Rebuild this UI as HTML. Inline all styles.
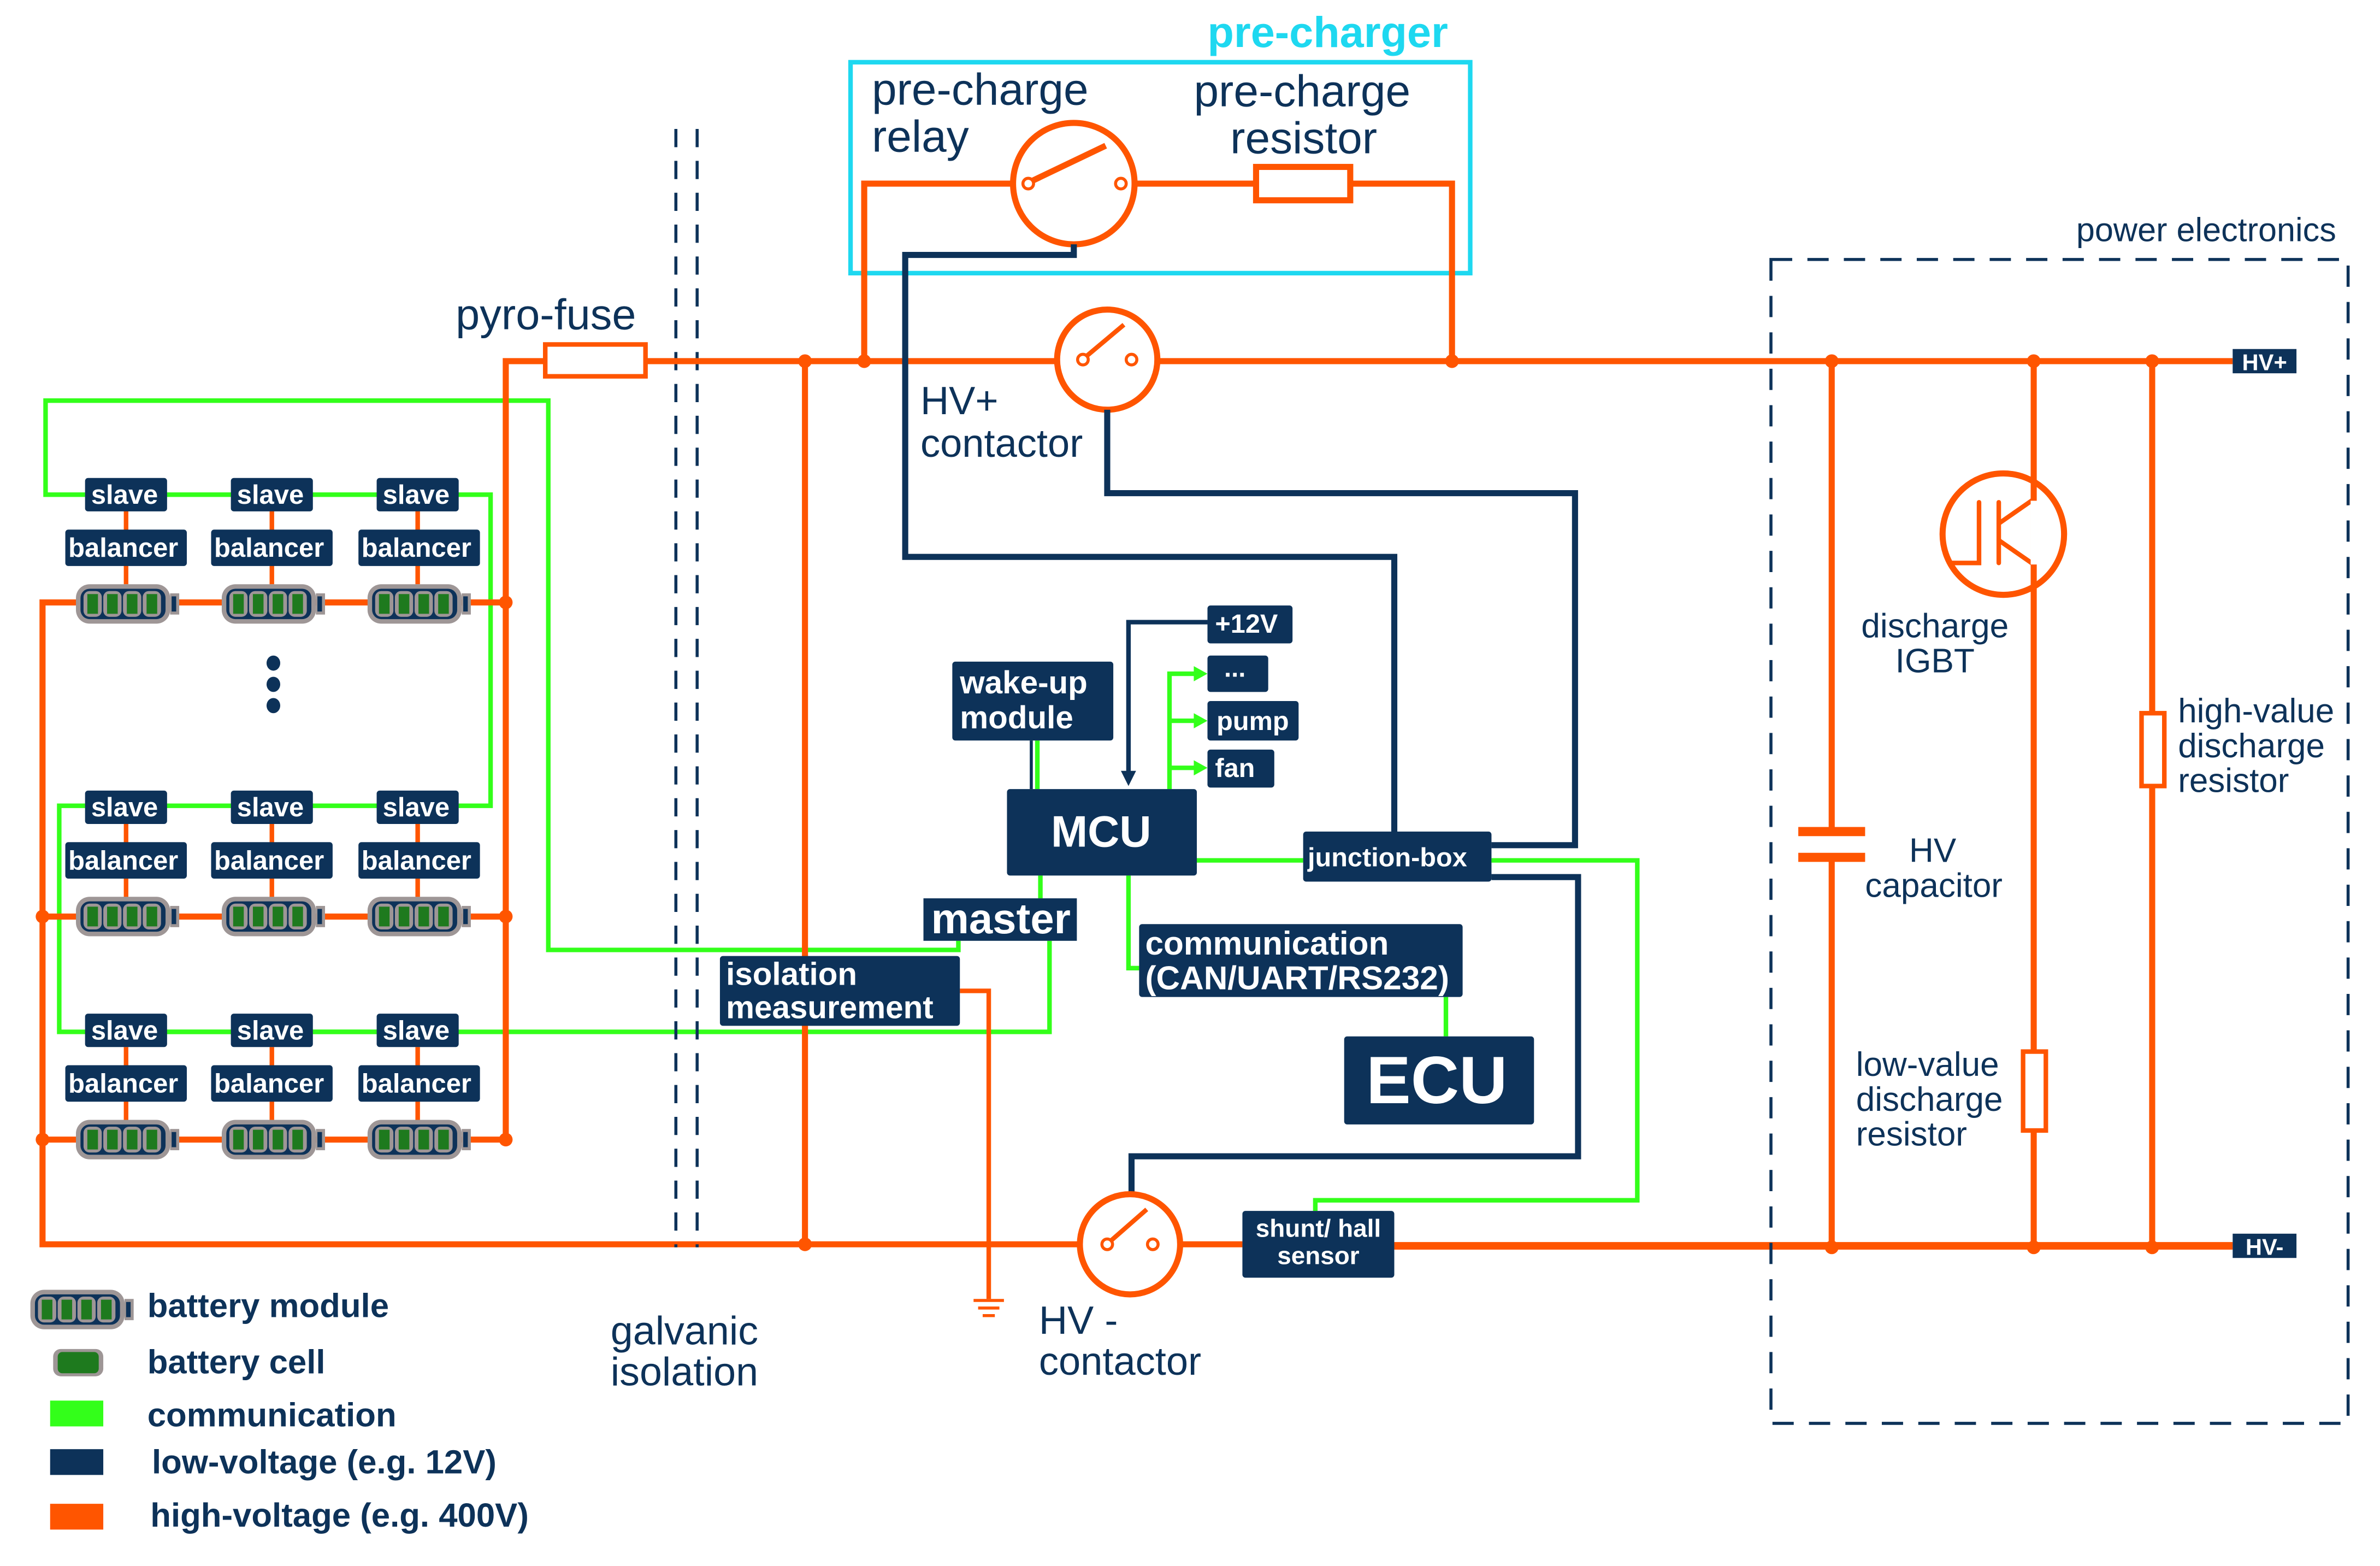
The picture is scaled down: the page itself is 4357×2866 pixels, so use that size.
<!DOCTYPE html>
<html><head><meta charset="utf-8"><style>
html,body{margin:0;padding:0;background:#fff;}
svg{display:block;}
text{font-family:"Liberation Sans",Arial,sans-serif;}
.w{fill:#fff;font-weight:bold;}
.t{fill:#0d3259;}
.o{stroke:#ff5500;stroke-width:4;fill:none;}
.n{stroke:#0d3259;stroke-width:4;fill:none;}
.g{stroke:#33ff1a;stroke-width:3;fill:none;}
.b{fill:#0d3259;}
.d{fill:#ff5500;}
</style></head><body>
<svg width="4357" height="2866" viewBox="0 0 1567 1032" preserveAspectRatio="none" xmlns="http://www.w3.org/2000/svg">
<defs>
<g id="bat">
<rect x="0" y="0" width="62" height="26" rx="9" fill="#9e9696"/>
<rect x="62" y="6" width="6" height="14" fill="#9e9696"/>
<rect x="63" y="8" width="3" height="10" fill="#0d3259"/>
<rect x="3" y="3" width="56" height="20" rx="6" fill="#0d3259"/>
<rect x="5" y="4.5" width="12" height="17" rx="4" fill="#9e9696"/><rect x="7.5" y="6.5" width="7" height="13" fill="#1e7a1e"/>
<rect x="18" y="4.5" width="12" height="17" rx="4" fill="#9e9696"/><rect x="20.5" y="6.5" width="7" height="13" fill="#1e7a1e"/>
<rect x="31" y="4.5" width="12" height="17" rx="4" fill="#9e9696"/><rect x="33.5" y="6.5" width="7" height="13" fill="#1e7a1e"/>
<rect x="44" y="4.5" width="12" height="17" rx="4" fill="#9e9696"/><rect x="46.5" y="6.5" width="7" height="13" fill="#1e7a1e"/>
</g>
</defs>

<polyline class="g" points="56,326 30,326 30,264 361,264 361,626 631,626 631,620"/>
<polyline class="g" points="56,326 302,326 323,326 323,531 302,531"/>
<polyline class="g" points="56,531 39,531 39,680 691,680 691,620"/>
<line class="g" x1="56" y1="531" x2="302" y2="531"/>
<line class="g" x1="56" y1="680" x2="302" y2="680"/>

<polyline class="o" points="51,397 28,397 28,820 711,820"/>
<line class="o" x1="113" y1="397" x2="333" y2="397"/>
<line class="o" x1="28" y1="604" x2="333" y2="604"/>
<line class="o" x1="28" y1="751" x2="333" y2="751"/>
<polyline class="o" points="333,751 333,238 359,238"/>
<g class="o" style="stroke-width:3">
<line x1="83" y1="336" x2="83" y2="385"/><line x1="179" y1="336" x2="179" y2="385"/><line x1="275" y1="336" x2="275" y2="385"/>
<line x1="83" y1="542" x2="83" y2="592"/><line x1="179" y1="542" x2="179" y2="592"/><line x1="275" y1="542" x2="275" y2="592"/>
<line x1="83" y1="690" x2="83" y2="738"/><line x1="179" y1="690" x2="179" y2="738"/><line x1="275" y1="690" x2="275" y2="738"/>
</g>
<g class="d"><circle cx="333" cy="397" r="4.5"/><circle cx="333" cy="604" r="4.5"/><circle cx="333" cy="751" r="4.5"/><circle cx="28" cy="604" r="4.5"/><circle cx="28" cy="751" r="4.5"/></g>

<g>
<rect class="b" x="56" y="315" width="54" height="22" rx="2"/><rect class="b" x="152" y="315" width="54" height="22" rx="2"/><rect class="b" x="248" y="315" width="54" height="22" rx="2"/>
<rect class="b" x="43" y="349" width="80" height="24" rx="2"/><rect class="b" x="139" y="349" width="80" height="24" rx="2"/><rect class="b" x="236" y="349" width="80" height="24" rx="2"/>
<rect class="b" x="56" y="521" width="54" height="22" rx="2"/><rect class="b" x="152" y="521" width="54" height="22" rx="2"/><rect class="b" x="248" y="521" width="54" height="22" rx="2"/>
<rect class="b" x="43" y="555" width="80" height="24" rx="2"/><rect class="b" x="139" y="555" width="80" height="24" rx="2"/><rect class="b" x="236" y="555" width="80" height="24" rx="2"/>
<rect class="b" x="56" y="668" width="54" height="22" rx="2"/><rect class="b" x="152" y="668" width="54" height="22" rx="2"/><rect class="b" x="248" y="668" width="54" height="22" rx="2"/>
<rect class="b" x="43" y="702" width="80" height="24" rx="2"/><rect class="b" x="139" y="702" width="80" height="24" rx="2"/><rect class="b" x="236" y="702" width="80" height="24" rx="2"/>
</g>
<g class="w" style="font-size:17.6px">
<text x="60" y="332">slave</text><text x="156" y="332">slave</text><text x="252" y="332">slave</text>
<text x="45" y="367">balancer</text><text x="141" y="367">balancer</text><text x="238" y="367">balancer</text>
<text x="60" y="538">slave</text><text x="156" y="538">slave</text><text x="252" y="538">slave</text>
<text x="45" y="573">balancer</text><text x="141" y="573">balancer</text><text x="238" y="573">balancer</text>
<text x="60" y="685">slave</text><text x="156" y="685">slave</text><text x="252" y="685">slave</text>
<text x="45" y="720">balancer</text><text x="141" y="720">balancer</text><text x="238" y="720">balancer</text>
</g>
<use href="#bat" x="50" y="385"/><use href="#bat" x="146" y="385"/><use href="#bat" x="242" y="385"/>
<use href="#bat" x="50" y="591"/><use href="#bat" x="146" y="591"/><use href="#bat" x="242" y="591"/>
<use href="#bat" x="50" y="738"/><use href="#bat" x="146" y="738"/><use href="#bat" x="242" y="738"/>
<g class="b"><ellipse cx="180" cy="437" rx="4.5" ry="5"/><ellipse cx="180" cy="451" rx="4.5" ry="5"/><ellipse cx="180" cy="465" rx="4.5" ry="5"/></g>

<line x1="445" y1="85" x2="445" y2="822" stroke="#0d3259" stroke-width="2" stroke-dasharray="12,9"/>
<line x1="459" y1="85" x2="459" y2="822" stroke="#0d3259" stroke-width="2" stroke-dasharray="12,9"/>
<text class="t" x="402" y="886" style="font-size:26.5px">galvanic</text><text class="t" x="402" y="913" style="font-size:26.5px">isolation</text>

<text class="t" x="300" y="217" style="font-size:28.5px">pyro-fuse</text>
<line class="o" x1="425" y1="238" x2="696" y2="238"/>
<line class="o" x1="762" y1="238" x2="1470" y2="238"/>
<rect x="359" y="227" width="66" height="21" fill="none" stroke="#ff5500" stroke-width="3"/>
<line class="o" x1="530" y1="238" x2="530" y2="820"/>

<rect x="560" y="41" width="408" height="139" fill="none" stroke="#1ed8f0" stroke-width="3"/>
<text x="795" y="31" fill="#1ed8f0" style="font-size:28.5px;font-weight:bold">pre-charger</text>
<text class="t" x="574" y="69" style="font-size:29.5px">pre-charge</text><text class="t" x="574" y="100" style="font-size:29.5px">relay</text>
<text class="t" x="786" y="70" style="font-size:29.5px">pre-charge</text><text class="t" x="810" y="101" style="font-size:29.5px">resistor</text>
<polyline class="o" points="569,238 569,121 667,121"/>
<line class="o" x1="747" y1="121" x2="827" y2="121"/>
<polyline class="o" points="889,121 956,121 956,238"/>
<rect x="827" y="110" width="62" height="22" fill="none" stroke="#ff5500" stroke-width="4"/>
<circle cx="707" cy="121" r="40" fill="#fff" stroke="#ff5500" stroke-width="4"/>
<circle cx="677" cy="121" r="3.5" fill="#fff" stroke="#ff5500" stroke-width="2"/>
<circle cx="738" cy="121" r="3.5" fill="#fff" stroke="#ff5500" stroke-width="2"/>
<line x1="680" y1="119" x2="728" y2="96" stroke="#ff5500" stroke-width="4"/>
<polyline class="n" points="707,161 707,168 596,168 596,367 918,367 918,550"/>

<circle cx="729" cy="237" r="33" fill="#fff" stroke="#ff5500" stroke-width="4"/>
<circle cx="713" cy="237" r="3.5" fill="#fff" stroke="#ff5500" stroke-width="2"/>
<circle cx="745" cy="237" r="3.5" fill="#fff" stroke="#ff5500" stroke-width="2"/>
<line x1="715" y1="235" x2="740" y2="214" stroke="#ff5500" stroke-width="3"/>
<text class="t" x="606" y="273" style="font-size:26px">HV+</text><text class="t" x="606" y="301" style="font-size:26px">contactor</text>
<polyline class="n" points="729,270 729,325 1037,325 1037,557 982,557"/>
<g class="d"><circle cx="530" cy="238" r="4.5"/><circle cx="569" cy="238" r="4.5"/><circle cx="956" cy="238" r="4.5"/><circle cx="1206" cy="238" r="4.5"/><circle cx="1339" cy="238" r="4.5"/><circle cx="1417" cy="238" r="4.5"/></g>

<line class="g" x1="683" y1="488" x2="683" y2="520"/>
<line x1="679" y1="488" x2="679" y2="520" stroke="#0d3259" stroke-width="2"/>
<polyline class="n" points="795,410 743,410 743,510" style="stroke-width:3"/>
<polygon points="738,508 748,508 743,518" fill="#0d3259"/>
<polyline class="g" points="770,520 770,444 788,444"/><line class="g" x1="770" y1="475" x2="788" y2="475"/><line class="g" x1="770" y1="506" x2="788" y2="506"/>
<g fill="#33ff1a"><polygon points="786,439 795,444 786,449"/><polygon points="786,470 795,475 786,480"/><polygon points="786,501 795,506 786,511"/></g>
<rect class="b" x="627" y="436" width="106" height="52" rx="2"/>
<text class="w" x="632" y="457" style="font-size:21px">wake-up</text><text class="w" x="632" y="480" style="font-size:21px">module</text>
<rect class="b" x="795" y="399" width="56" height="25" rx="2"/><text class="w" x="800" y="417" style="font-size:17.5px">+12V</text>
<rect class="b" x="795" y="432" width="40" height="24" rx="2"/><text class="w" x="806" y="446" style="font-size:17px">...</text>
<rect class="b" x="795" y="462" width="60" height="26" rx="2"/><text class="w" x="801" y="481" style="font-size:17.5px">pump</text>
<rect class="b" x="795" y="494" width="44" height="25" rx="2"/><text class="w" x="800" y="512" style="font-size:17.5px">fan</text>
<line class="g" x1="788" y1="567" x2="858" y2="567"/>
<line class="g" x1="685" y1="577" x2="685" y2="592"/>
<polyline class="g" points="743,577 743,638 750,638"/>
<line class="g" x1="952" y1="657" x2="952" y2="683"/>
<rect class="b" x="663" y="520" width="125" height="57" rx="2"/>
<text class="w" x="725" y="558" style="font-size:29px" text-anchor="middle">MCU</text>
<rect class="b" x="608" y="592" width="101" height="28"/>
<text class="w" x="659" y="615" style="font-size:28px" text-anchor="middle">master</text>
<rect class="b" x="858" y="548" width="124" height="33" rx="2"/><text class="w" x="861" y="571" style="font-size:17.5px">junction-box</text>
<rect class="b" x="750" y="609" width="213" height="48" rx="2"/>
<text class="w" x="754" y="629" style="font-size:21.7px">communication</text><text class="w" x="754" y="652" style="font-size:21.7px">(CAN/UART/RS232)</text>
<rect class="b" x="885" y="683" width="125" height="58" rx="2"/>
<text class="w" x="946" y="727" style="font-size:44px" text-anchor="middle">ECU</text>

<polyline class="g" points="982,567 1078,567 1078,791 866,791 866,798"/>
<polyline class="n" points="982,578 1039,578 1039,762 745,762 745,787"/>

<polyline class="o" points="632,653 651,653 651,856" style="stroke-width:3"/>
<g stroke="#ff5500" stroke-width="2"><line x1="641" y1="857" x2="661" y2="857"/><line x1="644" y1="862" x2="658" y2="862"/><line x1="647" y1="867" x2="655" y2="867"/></g>
<rect class="b" x="474" y="630" width="158" height="46" rx="2"/>
<text class="w" x="478" y="649" style="font-size:21px">isolation</text><text class="w" x="478" y="671" style="font-size:21px">measurement</text>

<line class="o" x1="777" y1="820" x2="818" y2="820"/>
<line class="o" x1="918" y1="821" x2="1470" y2="821" style="stroke-width:5"/>
<circle cx="744" cy="820" r="33" fill="#fff" stroke="#ff5500" stroke-width="4"/>
<circle cx="729" cy="820" r="3.5" fill="#fff" stroke="#ff5500" stroke-width="2"/>
<circle cx="759" cy="820" r="3.5" fill="#fff" stroke="#ff5500" stroke-width="2"/>
<line x1="731" y1="818" x2="755" y2="797" stroke="#ff5500" stroke-width="3"/>
<text class="t" x="684" y="879" style="font-size:26px">HV -</text><text class="t" x="684" y="906" style="font-size:26px">contactor</text>
<rect class="b" x="818" y="798" width="100" height="44" rx="2"/>
<text class="w" x="868" y="815" text-anchor="middle" style="font-size:16.5px">shunt/ hall</text><text class="w" x="868" y="833" text-anchor="middle" style="font-size:16.5px">sensor</text>
<circle class="d" cx="530" cy="820" r="4.5"/>

<rect x="1166" y="171" width="380" height="767" fill="none" stroke="#0d3259" stroke-width="2" stroke-dasharray="14,10"/>
<text class="t" x="1367" y="159" style="font-size:22px">power electronics</text>
<line class="o" x1="1206" y1="238" x2="1206" y2="547"/>
<line class="o" x1="1206" y1="566" x2="1206" y2="822"/>
<line x1="1184" y1="548" x2="1228" y2="548" stroke="#ff5500" stroke-width="6"/>
<line x1="1184" y1="565" x2="1228" y2="565" stroke="#ff5500" stroke-width="6"/>
<line class="o" x1="1339" y1="238" x2="1339" y2="693"/>
<line class="o" x1="1339" y1="745" x2="1339" y2="822"/>
<rect x="1332" y="693" width="15" height="52" fill="#fff" stroke="#ff5500" stroke-width="3"/>
<circle cx="1319" cy="352" r="40" fill="none" stroke="#ff5500" stroke-width="4"/>
<g stroke="#ff5500" stroke-width="3" fill="none" stroke-linecap="round">
<polyline points="1303,331 1303,371 1285,371"/>
<line x1="1316" y1="331" x2="1316" y2="371"/>
<line x1="1316" y1="345" x2="1339" y2="329"/>
<line x1="1316" y1="356" x2="1339" y2="372"/>
</g>
<rect x="1337" y="330" width="5" height="42" fill="#fff"/>
<line class="o" x1="1417" y1="238" x2="1417" y2="470"/>
<line class="o" x1="1417" y1="518" x2="1417" y2="822"/>
<rect x="1410" y="470" width="15" height="48" fill="#fff" stroke="#ff5500" stroke-width="3"/>
<g class="d"><circle cx="1206" cy="822" r="4.5"/><circle cx="1339" cy="822" r="4.5"/><circle cx="1417" cy="822" r="4.5"/></g>
<text class="t" x="1274" y="420" text-anchor="middle" style="font-size:22.4px">discharge</text><text class="t" x="1274" y="443" text-anchor="middle" style="font-size:22.4px">IGBT</text>
<text class="t" x="1434" y="476" style="font-size:22.3px">high-value</text><text class="t" x="1434" y="499" style="font-size:22.3px">discharge</text><text class="t" x="1434" y="522" style="font-size:22.3px">resistor</text>
<text class="t" x="1257" y="568" style="font-size:22.3px">HV</text><text class="t" x="1228" y="591" style="font-size:22.3px">capacitor</text>
<text class="t" x="1222" y="709" style="font-size:22.3px">low-value</text><text class="t" x="1222" y="732" style="font-size:22.3px">discharge</text><text class="t" x="1222" y="755" style="font-size:22.3px">resistor</text>
<rect class="b" x="1470" y="230" width="42" height="16"/><text class="w" x="1491" y="244" text-anchor="middle" style="font-size:15px">HV+</text>
<rect class="b" x="1470" y="813" width="42" height="16"/><text class="w" x="1491" y="827" text-anchor="middle" style="font-size:15px">HV-</text>

<use href="#bat" x="20" y="850"/>
<rect x="35" y="889" width="33" height="18" rx="5" fill="#9e9696"/><rect x="38" y="891" width="27" height="14" rx="3" fill="#1e7a1e"/>
<rect x="33" y="923" width="35" height="17" fill="#33ff1a"/>
<rect x="33" y="955" width="35" height="17" fill="#0d3259"/>
<rect x="33" y="991" width="35" height="17" fill="#ff5500"/>
<g fill="#0d3259" style="font-weight:bold;font-size:22.2px">
<text x="97" y="868">battery module</text><text x="97" y="905">battery cell</text><text x="97" y="940">communication</text><text x="100" y="971">low-voltage (e.g. 12V)</text><text x="99" y="1006">high-voltage (e.g. 400V)</text>
</g>
</svg>
</body></html>
